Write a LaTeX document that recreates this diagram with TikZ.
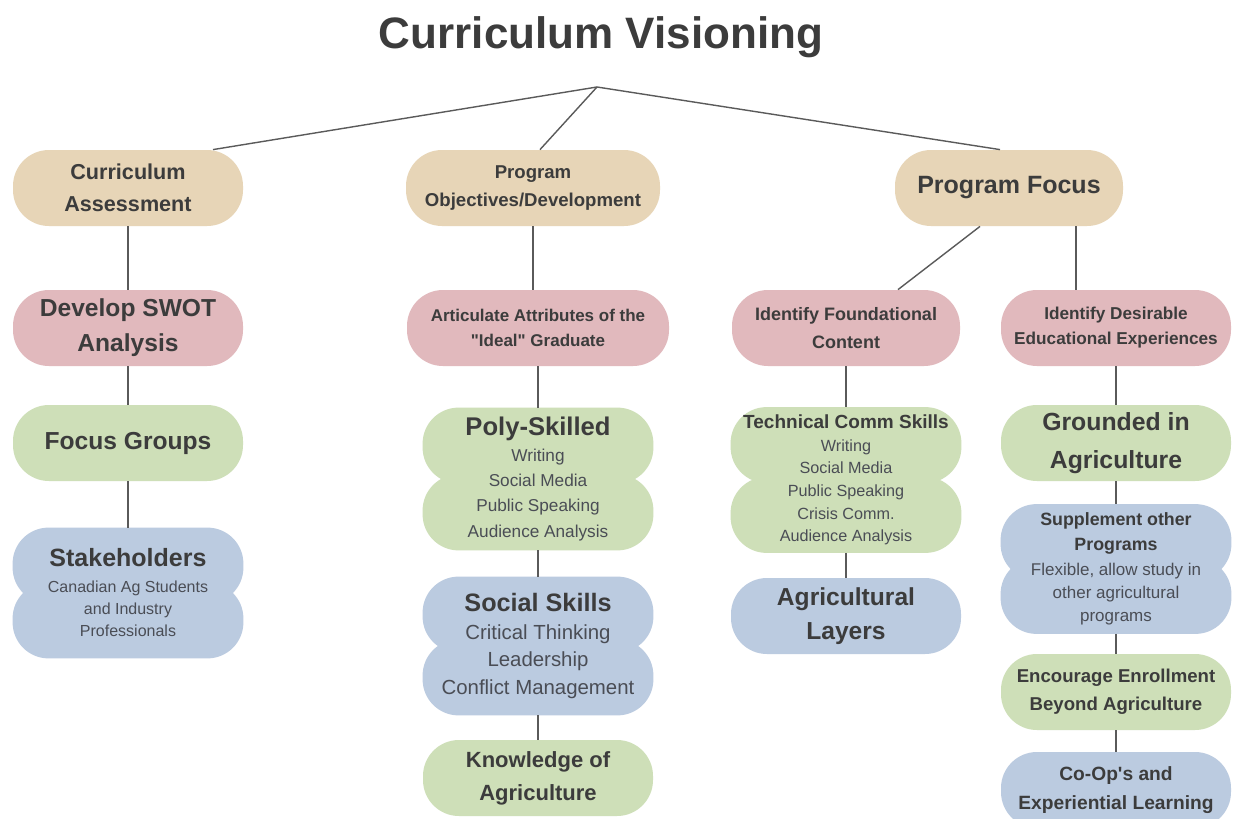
\documentclass[tikz,border=0pt]{standalone}
\usepackage{fontspec}
\setmainfont{Liberation Sans}
\usepackage{tikz}
\usetikzlibrary{backgrounds}

\definecolor{ink}{HTML}{3C3C3C}
\definecolor{subink}{HTML}{4A4D55}
\definecolor{linkgray}{HTML}{5A5A5A}
\definecolor{tanfill}{HTML}{E7D5B7}
\definecolor{rosefill}{HTML}{E1B9BD}
\definecolor{sagefill}{HTML}{CEDFB8}
\definecolor{skyfill}{HTML}{BBCBE0}

% two stacked pills behind a tall node
\newcommand{\twinpill}[2]{%
    \begin{scope}[on background layer]
        \fill[#2, rounded corners=18pt] (#1.north west) rectangle ([yshift=-38pt]#1.north east);
        \fill[#2, rounded corners=18pt] ([yshift=38pt]#1.south west) rectangle (#1.south east);
    \end{scope}}
\newcommand{\fs}[2]{\fontsize{#1}{#2}\selectfont}
\newcommand{\hd}[2]{{\color{ink}\bfseries\fs{#1}{#1}#2}}

\begin{document}
\begin{tikzpicture}[x=0.5pt, y=-0.5pt,
    pill/.style={rounded corners=18pt, minimum width=115pt, minimum height=38pt,
        align=center, text=ink, inner sep=1pt, font=\bfseries},
    tan/.style={pill, fill=tanfill},
    rose/.style={pill, fill=rosefill},
    sage/.style={pill, fill=sagefill},
    sky/.style={pill, fill=skyfill},
    twin/.style={pill, text=subink, font=\mdseries},
    link/.style={draw=linkgray, line width=0.7pt}]

    \begin{scope}[on background layer]
        \fill[white] (0,0) rectangle (1233,819);
    \end{scope}
    \useasboundingbox (0,0) rectangle (1233,819);

    % title
    \node[text=ink, font=\bfseries\fs{22}{26}] (title) at (601,37) {Curriculum Visioning};
    \coordinate (hub) at (597,87);

    % first level
    \node[tan, font=\bfseries\fs{10.8}{16}] (assess) at (128,188) {Curriculum\\Assessment};
    \node[tan, minimum width=127pt, font=\bfseries\fs{9.3}{14}] (obj) at (533,188) {Program\\Objectives/Development};
    \node[tan, minimum width=114pt, font=\bfseries\fs{12.5}{15}] (focus) at (1009,188) {Program Focus};

    \draw[link] (hub) -- ([xshift=42.5pt]assess.north);
    \draw[link] (hub) -- ([xshift=3.5pt]obj.north);
    \draw[link] (hub) -- ([xshift=-4.5pt]focus.north);

    % Curriculum Assessment branch
    \node[rose, font=\bfseries\fs{12.3}{17.5}] (swot) at (128,328) {Develop SWOT\\Analysis};
    \node[sage, font=\bfseries\fs{12.3}{15}] (groups) at (128,443) {Focus Groups};
    \node[twin, minimum height=65pt, font=\fs{8}{11}] (stake) at (128,593)
        {\hd{12.5}{Stakeholders}\\[2pt]Canadian Ag Students\\and Industry\\Professionals};
    \twinpill{stake}{skyfill}

    \draw[link] (assess) -- (swot);
    \draw[link] (swot) -- (groups);
    \draw[link] (groups) -- (stake);

    % Program Objectives branch
    \node[rose, minimum width=131pt, font=\bfseries\fs{8.5}{12.5}] (artic) at (538,328)
        {Articulate Attributes of the\\\textquotedbl Ideal\textquotedbl\ Graduate};
    \node[twin, minimum height=71pt, font=\fs{8.6}{12.7}] (poly) at (538,479)
        {\hd{12.8}{Poly-Skilled}\\Writing\\Social Media\\Public Speaking\\Audience Analysis};
    \twinpill{poly}{sagefill}
    \node[twin, minimum height=69pt, font=\fs{10.2}{13.8}] (social) at (538,646)
        {\hd{12.6}{Social Skills}\\Critical Thinking\\Leadership\\Conflict Management};
    \twinpill{social}{skyfill}
    \node[sage, font=\bfseries\fs{11}{16.5}] (know) at (538,778) {Knowledge of\\Agriculture};

    \draw[link] (obj.south) -- (obj.south |- artic.north);
    \draw[link] (artic) -- (poly);
    \draw[link] (poly) -- (social);
    \draw[link] (social) -- (know);

    % Program Focus branch, content side
    \node[rose, minimum width=114pt, font=\bfseries\fs{9}{14}] (found) at (846,328) {Identify Foundational\\Content};
    \node[twin, minimum height=72.5pt, font=\fs{8.1}{11.3}] (tech) at (846,480)
        {\hd{9.5}{Technical Comm Skills}\\Writing\\Social Media\\Public Speaking\\Crisis Comm.\\Audience Analysis};
    \twinpill{tech}{sagefill}
    \node[sky, font=\bfseries\fs{12.3}{17}] (layers) at (846,616) {Agricultural\\Layers};

    \draw[link] ([xshift=-14.5pt]focus.south) -- ([xshift=26pt]found.north);
    \draw[link] (found) -- (tech);
    \draw[link] (tech) -- (layers);

    % Program Focus branch, experience side
    \node[rose, font=\bfseries\fs{8.6}{12.5}] (desire) at (1116,328) {Identify Desirable\\Educational Experiences};
    \node[sage, font=\bfseries\fs{12.4}{19}] (ground) at (1116,443) {Grounded in\\Agriculture};
    \node[twin, minimum height=64.5pt, font=\fs{8.5}{11.5}] (supp) at (1116,569)
        {\hd{8.9}{Supplement other}\\[1pt]\hd{8.9}{Programs}\\[1pt]Flexible, allow study in\\other agricultural\\programs};
    \twinpill{supp}{skyfill}
    \node[sage, font=\bfseries\fs{9.3}{14}] (enroll) at (1116,692) {Encourage Enrollment\\Beyond Agriculture};
    \node[sky, font=\bfseries\fs{9.6}{14.5}] (coop) at (1116,790) {Co-Op\textquotesingle s and\\Experiential Learning};

    \draw[link] ([xshift=33.5pt]focus.south) -- ([xshift=33.5pt]focus.south |- desire.north);
    \draw[link] (desire) -- (ground);
    \draw[link] (ground) -- (supp);
    \draw[link] (supp) -- (enroll);
    \draw[link] (enroll) -- (coop);
\end{tikzpicture}
\end{document}
